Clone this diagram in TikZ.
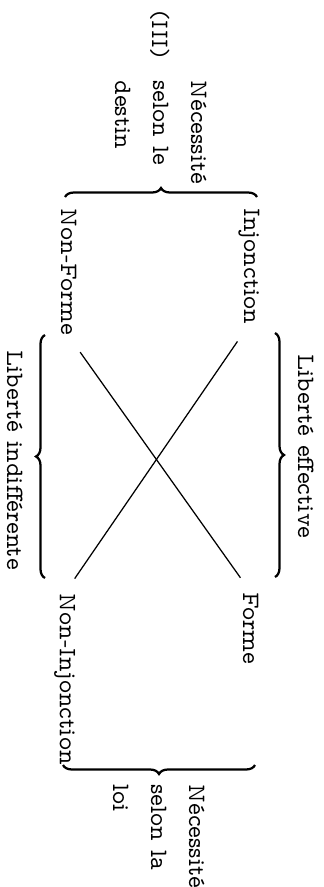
\documentclass[tikz,border=0pt]{standalone}
\usepackage{fontspec}
\newfontfamily\typo[Extension=.otf]{lmmonoprop10-regular}
\usetikzlibrary{decorations.pathreplacing}
\tikzset{
termnode/.style={inner sep=0pt, anchor=base west, font=\typo},
notebox/.style={inner sep=0pt, anchor=base west, align=left, font=\typo\fontsize{10}{15.2}\selectfont},
curly/.style={decorate, decoration={brace, amplitude=3.6pt}, line width=0.9pt},
cross/.style={line width=0.5pt, shorten <=8pt, shorten >=7pt}
}

\begin{document}
\begin{tikzpicture}[x=0.4pt,y=0.4pt]
\begin{scope}[rotate=-90,transform shape]
\path[use as bounding box] (0,0) rectangle (887,323);
% the four terms
\node[termnode] (inj) at (208,244) {Injonction};
\node[termnode] (nonforme) at (208,61) {Non-Forme};
\node[termnode] (forme) at (592,243) {Forme};
\node[termnode] (noninj) at (593,60) {Non-Injonction};
\draw[cross] (inj.east) -- (noninj.west);
\draw[cross] (nonforme.east) -- (forme.west);
% braces and their labels
\draw[curly] (197,65) -- (197,257);
\draw[curly] (765,255) -- (765,63);
\draw[curly] (333,275) -- (577,275);
\draw[curly] (578,45) -- (335,45);
\node[termnode, anchor=base] (libeff) at (446,298) {Libert\'e effective};
\node[termnode, anchor=base] (libind) at (460,7) {Libert\'e indiff\'erente};
\node[notebox] (destin) at (80,115) {N\'ecessit\'e\\selon le\\destin};
\node[termnode] (num) at (10,152) {(III)};
\node[notebox] (loi) at (784,113) {N\'ecessit\'e\\selon la\\loi};
\end{scope}
\end{tikzpicture}
\end{document}
